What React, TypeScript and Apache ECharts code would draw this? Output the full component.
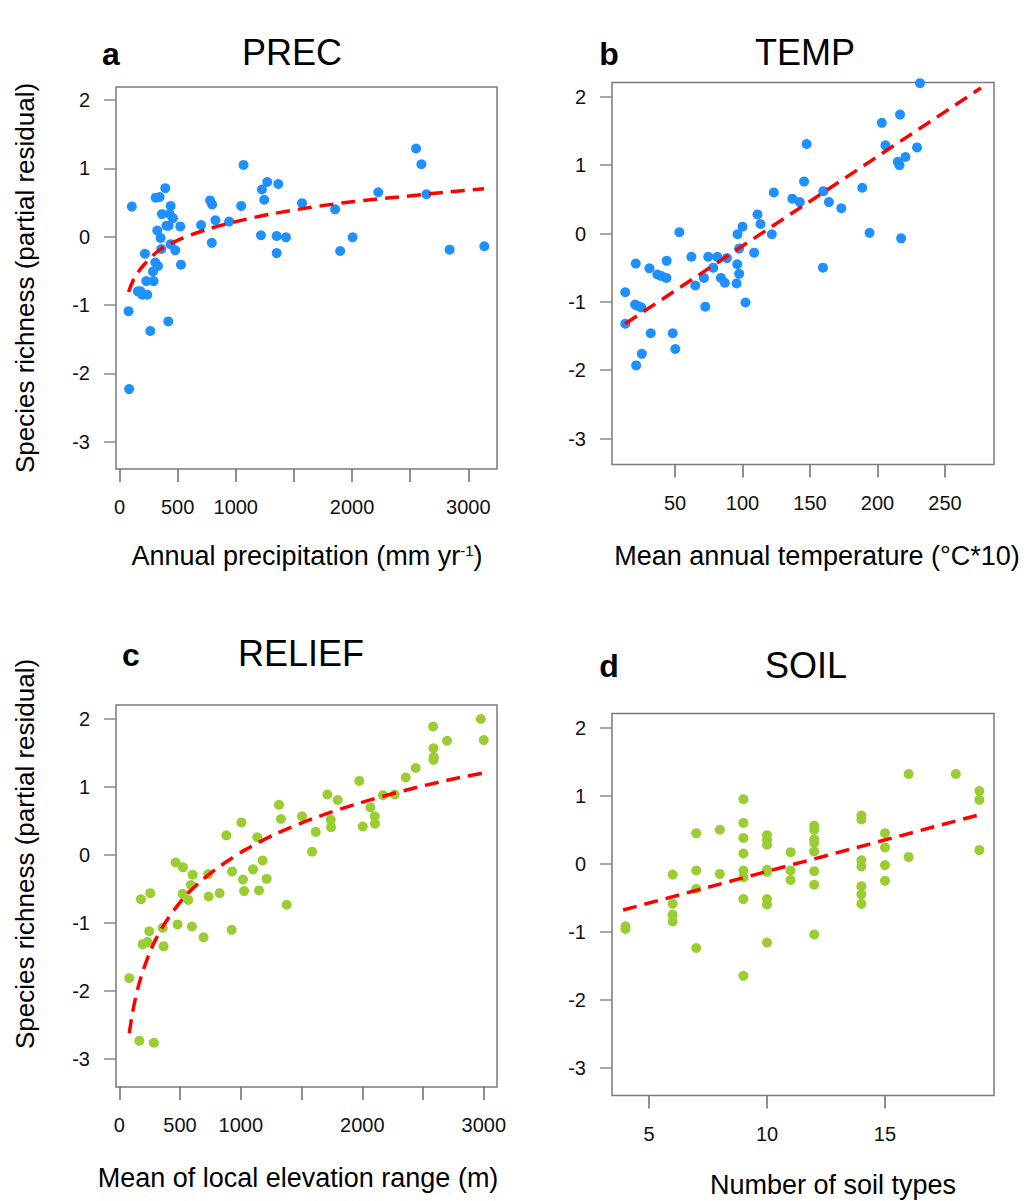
import React, { useEffect, useRef } from 'react';
import * as echarts from 'echarts';

// ---------- data ----------
const PREC_POINTS: number[][] = [
  [106, 0.44], [78, -1.09], [83, -2.23], [219, -0.25], [158, -0.8], [196, -0.85], [181, -0.8], [239, -0.85],
  [230, -0.65], [265, -1.38], [288, -0.51], [293, -0.65], [308, -0.38], [331, -0.43], [311, 0.57], [345, 0.58],
  [394, 0.71], [325, 0.09], [365, 0.33], [354, -0.02], [360, -0.18], [403, 0.16], [423, 0.16], [440, 0.45],
  [431, 0.33], [460, 0.27], [440, -0.11], [420, -1.24], [480, -0.2], [523, 0.15], [529, -0.41], [702, 0.17],
  [779, 0.53], [797, 0.47], [794, -0.09], [825, 0.24], [943, 0.22], [1047, 0.45], [1067, 1.05], [1217, 0.02],
  [1225, 0.69], [1245, 0.54], [1271, 0.8], [1366, 0.77], [1352, 0.01], [1352, -0.24], [1432, -0.01], [1570, 0.49],
  [1855, 0.4], [1898, -0.21], [2005, -0.01], [2226, 0.65], [2551, 1.29], [2597, 1.06], [2640, 0.62], [2839, -0.19],
  [3138, -0.14],
];
const PREC_FIT: number[][] = [
  [78, -0.81], [130, -0.6], [216, -0.4], [340, -0.2], [532, -0.03], [760, 0.11], [1000, 0.22], [1300, 0.33],
  [1650, 0.43], [2000, 0.51], [2400, 0.58], [2800, 0.65], [3135, 0.7],
];

const TEMP_POINTS: number[][] = [
  [13.1, -0.86], [13.1, -1.32], [20.9, -0.44], [20.4, -1.04], [22.4, -1.06], [24.9, -1.08], [21.2, -1.93],
  [25.4, -1.76], [31.0, -0.51], [32.0, -1.46], [36.9, -0.6], [39.7, -0.62], [43.8, -0.4], [43.6, -0.65],
  [48.3, -1.46], [50.2, -1.69], [53.2, 0.02], [62.1, -0.34], [65.0, -0.76], [71.4, -0.65], [72.4, -1.07],
  [74.6, -0.34], [78.3, -0.5], [81.3, -0.34], [84.0, -0.65], [86.9, -0.72], [88.4, -0.36], [95.6, -0.73],
  [96.1, -0.45], [96.3, -0.01], [97.5, -0.59], [97.5, -0.22], [100, 0.1], [102.2, -1.01], [108.6, -0.28],
  [111.1, 0.28], [113.3, 0.14], [121.7, -0.01], [123.2, 0.6], [136.9, 0.51], [142.4, 0.46], [145.6, 0.76],
  [147.5, 1.31], [159.6, -0.5], [159.9, 0.62], [164.0, 0.46], [173.2, 0.37], [188.7, 0.67], [194.1, 0.01],
  [203.2, 1.62], [205.9, 1.29], [215.0, 1.05], [216.3, 1.0], [216.7, 1.74], [220.7, 1.12], [217.5, -0.07],
  [229.3, 1.26], [231.5, 2.2],
];
const TEMP_FIT: number[][] = [[13.1, -1.32], [276.6, 2.13]];

const RELIEF_POINTS: number[][] = [
  [82, -1.81], [178, -0.65], [255, -0.56], [247, -1.12], [192, -1.31], [233, -1.28], [357, -1.07], [365, -1.34],
  [464, -0.11], [524, -0.18], [522, -0.57], [568, -0.66], [590, -0.44], [604, -0.29], [480, -1.02], [598, -1.05],
  [694, -1.21], [733, -0.28], [736, -0.61], [826, -0.56], [881, 0.29], [925, -1.1], [928, -0.24], [1005, 0.48],
  [1018, -0.36], [1027, -0.53], [1101, -0.21], [1136, 0.26], [1150, -0.52], [1180, -0.08], [1213, -0.35],
  [1315, 0.74], [1331, 0.53], [1378, -0.73], [1504, 0.57], [1587, 0.05], [1617, 0.34], [1713, 0.89], [1740, 0.52],
  [1743, 0.41], [1798, 0.81], [1976, 1.09], [2004, 0.42], [2067, 0.7], [2103, 0.57], [2105, 0.46], [2171, 0.88],
  [2267, 0.89], [2358, 1.14], [2440, 1.28], [2583, 1.89], [2586, 1.57], [2589, 1.44], [2586, 1.4], [2698, 1.68],
  [2976, 2.0], [3000, 1.69], [165, -2.73], [285, -2.76],
];
const RELIEF_FIT: number[][] = [
  [82, -2.62], [105, -2.36], [129, -2.14], [160, -1.91], [198, -1.69], [245, -1.46], [300, -1.24], [370, -1.02],
  [450, -0.81], [550, -0.59], [680, -0.37], [840, -0.15], [1040, 0.08], [1300, 0.32], [1600, 0.54], [1950, 0.75],
  [2350, 0.95], [2700, 1.1], [3003, 1.21],
];

const SOIL_POINTS: number[][] = [
  [4, -0.92], [4, -0.96],
  [6, -0.16], [6, -0.59], [6, -0.75], [6, -0.85],
  [7, 0.45], [7, -0.1], [7, -0.37], [7, -1.24],
  [8, 0.5], [8, -0.15],
  [9, 0.95], [9, 0.6], [9, 0.38], [9, 0.15], [9, -0.1], [9, -0.2], [9, -0.52], [9, -1.65],
  [10, 0.42], [10, 0.35], [10, 0.28], [10, -0.09], [10, -0.12], [10, -0.52], [10, -0.6], [10, -1.16],
  [11, 0.17], [11, -0.1], [11, -0.24],
  [12, 0.56], [12, 0.5], [12, 0.36], [12, 0.31], [12, 0.18], [12, -0.11], [12, -0.31], [12, -1.04],
  [14, 0.71], [14, 0.65], [14, 0.05], [14, -0.04], [14, -0.33], [14, -0.45], [14, -0.59],
  [15, 0.45], [15, 0.24], [15, -0.02], [15, -0.25],
  [16, 1.32], [16, 0.1],
  [18, 1.32],
  [19, 1.07], [19, 0.94], [19, 0.2],
];
const SOIL_FIT: number[][] = [[3.9, -0.68], [19.1, 0.73]];

const Y_TICKS = [-3, -2, -1, 0, 1, 2];
const PREC_TICKS = [0, 500, 1000, 1500, 2000, 2500, 3000];
const PREC_LABELS = [0, 500, 1000, 2000, 3000];
const TEMP_TICKS = [50, 100, 150, 200, 250];
const RELIEF_TICKS = [0, 500, 1000, 1500, 2000, 2500, 3000];
const RELIEF_LABELS = [0, 500, 1000, 2000, 3000];
const SOIL_TICKS = [5, 10, 15];

const PANEL_LETTERS = ['a', 'b', 'c', 'd'];
const PANEL_TITLES = ['PREC', 'TEMP', 'RELIEF', 'SOIL'];
const Y_TITLE = 'Species richness (partial residual)';

// ---------- styling ----------
const FONT = "'Liberation Sans', Arial, Helvetica, sans-serif";
const BLUE = '#1E90FF';
const GREEN = '#9ACD32';
const RED = '#FF0000';
const BOX = '#7a7a7a';

const GRIDS = [
  { left: 116, top: 87, width: 381, height: 382 },
  { left: 612, top: 82.5, width: 382, height: 382 },
  { left: 116, top: 705, width: 381, height: 382 },
  { left: 612, top: 713.5, width: 382, height: 382 },
];
const X_RANGES = [[-30, 3247], [3.3, 286.3], [-27, 3109], [3.43, 19.62]];
const Y_RANGES = [[-3.4, 2.19], [-3.38, 2.21], [-3.41, 2.206], [-3.41, 2.21]];

function xAxis(i: number, ticks: number[], labels: number[]) {
  return {
    type: 'value',
    gridIndex: i,
    position: 'bottom',
    min: X_RANGES[i][0],
    max: X_RANGES[i][1],
    axisLine: { show: false, onZero: false },
    splitLine: { show: false },
    axisTick: { show: true, length: 13, customValues: ticks, lineStyle: { color: '#6a6a6a', width: 1.5 } },
    axisLabel: {
      customValues: labels,
      margin: 28,
      fontSize: 20,
      color: '#111',
      fontFamily: FONT,
      formatter: (v: number) => String(v),
    },
  };
}
function yAxis(i: number) {
  return {
    type: 'value',
    gridIndex: i,
    position: 'left',
    min: Y_RANGES[i][0],
    max: Y_RANGES[i][1],
    axisLine: { show: false, onZero: false },
    splitLine: { show: false },
    axisTick: { show: true, length: 12, customValues: Y_TICKS, lineStyle: { color: '#8a8a8a', width: 1.5 } },
    axisLabel: {
      customValues: Y_TICKS,
      margin: 26,
      fontSize: 20,
      color: '#111',
      fontFamily: FONT,
      formatter: (v: number) => String(v),
    },
  };
}

function scatter(i: number, data: number[][], color: string) {
  return {
    type: 'scatter',
    xAxisIndex: i,
    yAxisIndex: i,
    data,
    symbol: 'circle',
    symbolSize: 10,
    itemStyle: { color, opacity: 1 },
    clip: false,
    z: 2,
  };
}
function fit(i: number, data: number[][], smooth: boolean) {
  return {
    type: 'line',
    xAxisIndex: i,
    yAxisIndex: i,
    data,
    showSymbol: false,
    symbol: 'none',
    smooth: smooth ? 0.3 : false,
    lineStyle: { color: RED, width: 3.5, type: [14, 8], cap: 'butt' },
    z: 3,
  };
}

function text(str: string, x: number, y: number, size: number, bold = false, rotation = 0) {
  return {
    type: 'text',
    x,
    y,
    rotation,
    style: {
      text: str,
      fontSize: size,
      fontFamily: FONT,
      fontWeight: bold ? 'bold' : 'normal',
      fill: '#000',
      align: 'center',
      verticalAlign: 'middle',
    },
  };
}

const option = {
  animation: false,
  backgroundColor: '#fff',
  grid: GRIDS.map((g) => ({ ...g, show: true, borderColor: BOX, borderWidth: 1.5, backgroundColor: 'transparent', containLabel: false })),
  xAxis: [
    xAxis(0, PREC_TICKS, PREC_LABELS),
    xAxis(1, TEMP_TICKS, TEMP_TICKS),
    xAxis(2, RELIEF_TICKS, RELIEF_LABELS),
    xAxis(3, SOIL_TICKS, SOIL_TICKS),
  ],
  yAxis: [yAxis(0), yAxis(1), yAxis(2), yAxis(3)],
  series: [
    scatter(0, PREC_POINTS, BLUE),
    fit(0, PREC_FIT, true),
    scatter(1, TEMP_POINTS, BLUE),
    fit(1, TEMP_FIT, false),
    scatter(2, RELIEF_POINTS, GREEN),
    fit(2, RELIEF_FIT, true),
    scatter(3, SOIL_POINTS, GREEN),
    fit(3, SOIL_FIT, false),
  ],
  graphic: [
    text(PANEL_LETTERS[0], 111, 54, 32, true),
    text(PANEL_TITLES[0], 292, 52, 36),
    text(PANEL_LETTERS[1], 609, 54, 32, true),
    text(PANEL_TITLES[1], 805, 52, 36),
    text(PANEL_LETTERS[2], 131, 655, 32, true),
    text(PANEL_TITLES[2], 301, 653, 36),
    text(PANEL_LETTERS[3], 609, 666, 32, true),
    text(PANEL_TITLES[3], 806, 665, 36),
    {
      type: 'text',
      x: 307,
      y: 556,
      style: {
        text: '{a|Annual precipitation (mm yr}{s|-1}{a|)}',
        rich: {
          a: { fontSize: 27, fontFamily: FONT, fill: '#000', verticalAlign: 'bottom' },
          s: { fontSize: 15, fontFamily: FONT, fill: '#000', verticalAlign: 'top' },
        },
        align: 'center',
        verticalAlign: 'middle',
      },
    },
    text('Mean annual temperature (°C*10)', 817, 556, 27),
    text('Mean of local elevation range (m)', 298, 1178, 27),
    text('Number of soil types', 833, 1185, 27),
    text(Y_TITLE, 25, 278, 26, false, Math.PI / 2),
    text(Y_TITLE, 25, 854, 26, false, Math.PI / 2),
  ],
};

export default function App() {
  const ref = useRef<HTMLDivElement>(null);
  useEffect(() => {
    document.body.style.margin = '0';
    const chart = echarts.init(ref.current as HTMLDivElement, null, { renderer: 'svg' });
    chart.setOption(option as any);
    return () => chart.dispose();
  }, []);
  return <div ref={ref} style={{ width: 1032, height: 1201 }} />;
}
